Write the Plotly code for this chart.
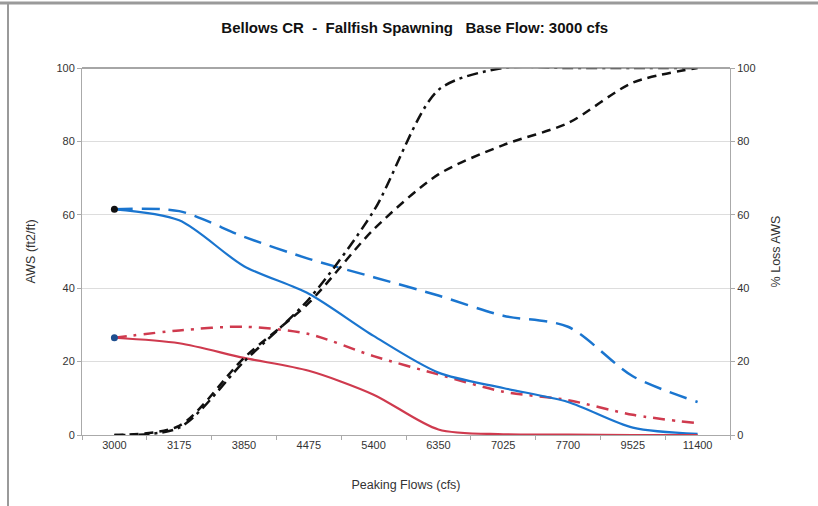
import plotly.graph_objects as go

categories = ["3000", "3175", "3850", "4475", "5400", "6350", "7025", "7700", "9525", "11400"]
aws_a_solid = [61.5, 58.5, 46, 38.5, 27, 17, 12.8, 9, 2, 0.3]
aws_a_dash = [61.5, 61, 54, 48, 43, 38, 32.5, 29.5, 16, 9]
aws_b_solid = [26.5, 25, 21, 17.5, 11, 1.5, 0.2, 0.1, 0, 0]
aws_b_dashdot = [26.5, 28.5, 29.5, 27.5, 21.5, 16.5, 11.8, 9.5, 5.5, 3.2]
loss_a = [0, 2.5, 21, 36, 56, 71, 79, 85, 96, 100]
loss_b = [0, 2, 20, 37, 61, 94, 100, 100, 100, 100]
base_points = [61.5, 26.5]

BLUE = "#1a75cf"
RED = "#cf3a4e"
BLACK = "#111111"
FONT = "Liberation Sans, Arial, sans-serif"

fig = go.Figure()
fig.add_trace(go.Scatter(x=categories, y=aws_a_dash, mode="lines",
                         line=dict(color=BLUE, width=2.5, dash="18px,9px", shape="spline", smoothing=0.8)))
fig.add_trace(go.Scatter(x=categories, y=aws_b_dashdot, mode="lines",
                         line=dict(color=RED, width=2.5, dash="12px,7px,3px,7px", shape="spline", smoothing=0.8)))
fig.add_trace(go.Scatter(x=categories, y=aws_a_solid, mode="lines",
                         line=dict(color=BLUE, width=2.2, shape="spline", smoothing=0.8)))
fig.add_trace(go.Scatter(x=categories, y=aws_b_solid, mode="lines",
                         line=dict(color=RED, width=2.2, shape="spline", smoothing=0.8)))
fig.add_trace(go.Scatter(x=categories, y=loss_a, mode="lines", yaxis="y2",
                         line=dict(color=BLACK, width=2.5, dash="9px,6px", shape="spline", smoothing=0.8)))
fig.add_trace(go.Scatter(x=categories, y=loss_b, mode="lines", yaxis="y2",
                         line=dict(color=BLACK, width=2.5, dash="11px,5px,3px,5px", shape="spline", smoothing=0.8)))
fig.add_trace(go.Scatter(x=[categories[0], categories[0]], y=base_points, mode="markers",
                         marker=dict(color=["#111111", "#1f4f8f"], size=7)))

tick_font = dict(family=FONT, size=11, color="#333333")
title_font = dict(family=FONT, size=12.5, color="#333333")
fig.update_layout(
    width=818, height=506,
    margin=dict(l=82, r=88, t=68, b=71),
    paper_bgcolor="white", plot_bgcolor="white",
    showlegend=False,
    title=dict(text="<b>Bellows CR  -  Fallfish Spawning   Base Flow: 3000 cfs</b>",
               x=0.507, xanchor="center", y=0.945, yanchor="middle",
               font=dict(family=FONT, size=15, color="#111111")),
    xaxis=dict(type="category", range=[-0.5, 9.5], tickson="boundaries", ticks="outside",
               ticklen=4, tickcolor="#aaaaaa", showgrid=False, showline=True,
               linecolor="#aaaaaa", linewidth=1, tickfont=tick_font, zeroline=False,
               title=dict(text="Peaking Flows (cfs)", font=title_font, standoff=30)),
    yaxis=dict(range=[0, 100], dtick=20, ticks="outside", ticklen=4, tickcolor="#aaaaaa",
               showgrid=True, gridcolor="#dddddd", gridwidth=1, showline=True,
               linecolor="#aaaaaa", zeroline=False, tickfont=tick_font,
               title=dict(text="AWS (ft2/ft)", font=title_font, standoff=18)),
    yaxis2=dict(range=[0, 100], dtick=20, overlaying="y", side="right", ticks="outside",
                ticklen=4, tickcolor="#aaaaaa", showgrid=False, showline=True,
                linecolor="#aaaaaa", zeroline=False, tickfont=tick_font,
                title=dict(text="% Loss AWS", font=title_font, standoff=16)),
)
# top border line of plot (darker line at 100)
fig.add_shape(type="line", xref="paper", yref="paper", x0=0, x1=1, y0=1, y1=1,
              line=dict(color="#888888", width=1.5))
# outer chart frame (top and left edges)
fig.add_shape(type="line", xref="paper", yref="paper",
              x0=-82/648, x1=(818-82)/648, y0=(435-3)/367, y1=(435-3)/367,
              line=dict(color="#9a9a9a", width=3), layer="below")
fig.add_shape(type="line", xref="paper", yref="paper",
              x0=-74/648, x1=-74/648, y0=-(506-435)/367, y1=(435-3)/367,
              line=dict(color="#9a9a9a", width=2), layer="below")

fig.write_html("out.html", post_script="document.body.style.margin='0';",
               config={"displayModeBar": False})
